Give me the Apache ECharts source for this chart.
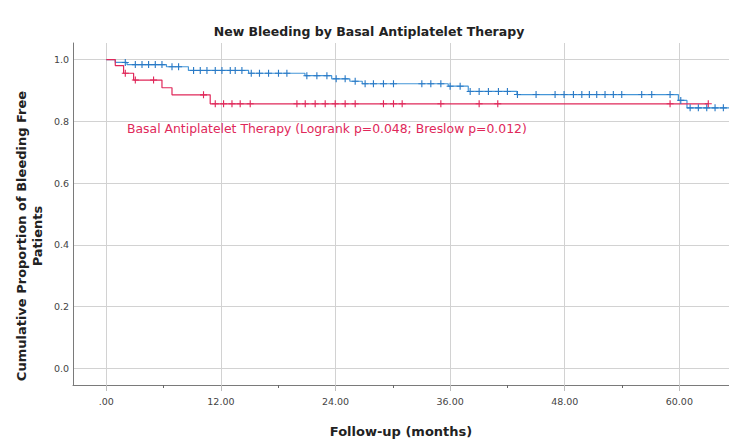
<!DOCTYPE html>
<html><head><meta charset="utf-8">
<script src="https://cdn.jsdelivr.net/npm/echarts@6/dist/echarts.min.js"></script>
<style>html,body{margin:0;padding:0;background:#fff}#c{width:729px;height:448px}</style>
</head><body><div id="c"></div>
<script>
// Axis ticks
const xTicks = [0, 12, 24, 36, 48, 60];
const xMinorTicks = [6, 18, 30, 42, 54];
const yTicks = [0, 0.2, 0.4, 0.6, 0.8, 1.0];

// Group without basal antiplatelet therapy (blue)
const blueEventTimes = [0, 0.94, 2.17, 6.3, 8.6, 14.9, 20.8, 23.6, 25.5, 26.8, 35.8, 37.9, 43.0, 59.9, 60.8];
const blueSurvival   = [1.0, 0.991, 0.984, 0.977, 0.965, 0.956, 0.948, 0.938, 0.930, 0.922, 0.914, 0.897, 0.887, 0.868, 0.844];
const blueEndTime = 65.2;
const blueCensorTimes = [1.99, 3.04, 3.74, 4.43, 5.13, 5.83, 6.88, 7.57, 9.14, 9.84, 10.54, 11.41, 12.11, 12.98, 13.50,
  14.20, 15.18, 16.04, 16.99, 18.03, 18.91, 21.00, 22.05, 23.10, 24.07, 25.01, 26.06, 27.10, 27.97, 29.02, 30.07,
  33.04, 33.98, 35.03, 36.00, 37.05, 38.10, 39.04, 40.01, 41.06, 42.00, 43.05, 45.00, 46.99, 47.93, 48.91, 49.79,
  50.58, 51.35, 52.22, 53.09, 53.97, 56.06, 57.11, 59.03, 60.15, 61.13, 61.99, 62.87, 63.74, 64.61];

// Group with basal antiplatelet therapy (red)
const redEventTimes = [0, 0.94, 1.81, 2.86, 5.83, 6.88, 10.88];
const redSurvival   = [1.0, 0.981, 0.956, 0.934, 0.909, 0.886, 0.857];
const redEndTime = 63.03;
const redCensorTimes = [1.99, 3.04, 4.95, 10.18, 11.41, 12.28, 13.16, 14.02, 15.07, 19.96, 20.83, 21.87, 22.92, 23.97,
  25.01, 26.06, 29.02, 30.07, 30.98, 35.03, 39.04, 40.99, 59.03, 63.03];

const titleText = 'New Bleeding by Basal Antiplatelet Therapy';
const noteText = 'Basal Antiplatelet Therapy (Logrank p=0.048; Breslow p=0.012)';
const xName = 'Follow-up (months)';
const yName = 'Cumulative Proportion of Bleeding Free\nPatients';

function stepData(times, surv, endTime) {
  const d = times.map((t, i) => [t, surv[i]]);
  d.push([endTime, surv[surv.length - 1]]);
  return d;
}
function valueAt(times, surv, t) {
  let v = surv[0];
  for (let i = 0; i < times.length; i++) { if (times[i] <= t) v = surv[i]; }
  return v;
}
function censorData(cTimes, times, surv) {
  return cTimes.map(t => [t, valueAt(times, surv, t)]);
}

const BLUE_LINE = '#4596d8', BLUE_MARK = '#2a7ac6';
const RED = '#e0285a';
const FONT = 'DejaVu Sans';
const plus = 'path://M-0.16,-1H0.16V-0.16H1V0.16H0.16V1H-0.16V0.16H-1V-0.16H-0.16Z';

const chart = echarts.init(document.getElementById('c'), null, {renderer: 'svg'});
chart.setOption({
  animation: false,
  backgroundColor: '#ffffff',
  textStyle: {fontFamily: FONT},
  title: [
    {text: titleText, left: 369, top: 25, textAlign: 'center', padding: 0,
     textStyle: {fontFamily: FONT, fontSize: 12.5, fontWeight: 'bold', color: '#222'}},
    {text: noteText, left: 127, top: 122, padding: 0,
     textStyle: {fontFamily: FONT, fontSize: 12.4, fontWeight: 'normal', color: RED}}
  ],
  graphic: [{
    type: 'text', x: 29, y: 236, rotation: Math.PI / 2,
    style: {text: yName, fontFamily: FONT, fontSize: 13, fontWeight: 'bold', fill: '#222',
      align: 'center', verticalAlign: 'middle', lineHeight: 16}
  }],
  grid: {left: 73, right: 0, top: 43, bottom: 63, containLabel: false},
  xAxis: [{
    type: 'value', min: -3.485, max: 65.2,
    name: xName, nameLocation: 'middle', nameGap: 40,
    nameTextStyle: {fontFamily: FONT, fontSize: 13, fontWeight: 'bold', color: '#222'},
    axisLine: {show: true, onZero: false, lineStyle: {color: '#7a7a7a', width: 1}},
    axisTick: {show: true, customValues: xTicks, length: 6, lineStyle: {color: '#bdbdbd'}},
    axisLabel: {customValues: xTicks, margin: 11, fontSize: 9.5, color: '#444', fontFamily: FONT,
      formatter: v => v === 0 ? '.00' : v.toFixed(2)},
    splitLine: {show: true, lineStyle: {color: '#d2d2d2', width: 1}}
  }, {
    type: 'value', min: -3.485, max: 65.2, position: 'bottom',
    axisLine: {show: false, onZero: false},
    axisTick: {show: true, customValues: xMinorTicks, length: 3, lineStyle: {color: '#666'}},
    axisLabel: {show: false},
    splitLine: {show: false}
  }],
  yAxis: {
    type: 'value', min: -0.054, max: 1.054,
    axisLine: {show: true, onZero: false, lineStyle: {color: '#7a7a7a', width: 1}},
    axisTick: {show: false, customValues: yTicks},
    axisLabel: {customValues: yTicks, margin: 4, fontSize: 9.5, color: '#444', fontFamily: FONT,
      formatter: v => v.toFixed(1)},
    splitLine: {show: true, lineStyle: {color: '#d2d2d2', width: 1}}
  },
  series: [
    {type: 'line', step: 'end', data: stepData(blueEventTimes, blueSurvival, blueEndTime),
     showSymbol: false, lineStyle: {color: BLUE_LINE, width: 1.2}, z: 3},
    {type: 'line', step: 'end', data: stepData(redEventTimes, redSurvival, redEndTime),
     showSymbol: false, lineStyle: {color: RED, width: 1.2}, z: 4},
    {type: 'scatter', data: censorData(blueCensorTimes, blueEventTimes, blueSurvival),
     symbol: plus, symbolSize: 7, itemStyle: {color: BLUE_MARK, opacity: 1}, z: 5},
    {type: 'scatter', data: censorData(redCensorTimes, redEventTimes, redSurvival),
     symbol: plus, symbolSize: 7, itemStyle: {color: RED, opacity: 1}, z: 6}
  ]
});
</script></body></html>
